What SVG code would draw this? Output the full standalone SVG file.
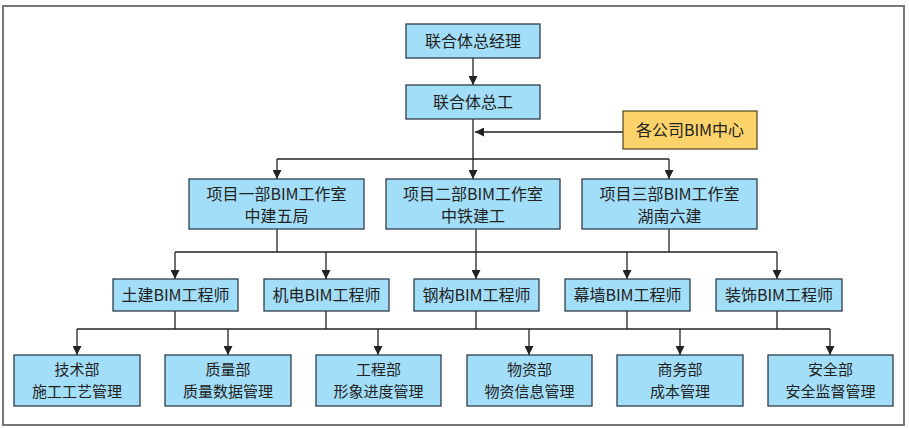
<svg xmlns="http://www.w3.org/2000/svg" width="909" height="429" viewBox="0 0 909 429">
<style>
.b{fill:#a3def8;stroke:#2f3d4c;stroke-width:1.3}
.y{fill:#fbd36a;stroke:#5c4f2a;stroke-width:1.3}
.t{font-family:"Noto Sans CJK SC","Noto Sans",sans-serif;font-size:16px;fill:#222;text-anchor:middle}
.s{font-size:15px}
.c{fill:none;stroke:#222;stroke-width:1.3}
</style>
<defs>
<marker id="ah" viewBox="0 0 10 10" refX="10" refY="5" markerWidth="9" markerHeight="9" markerUnits="userSpaceOnUse" orient="auto">
<path d="M0,0 L10,5 L0,10 z" fill="#222"/>
</marker>
</defs>
<rect x="3" y="6" width="901" height="419" fill="#fff" stroke="#777" stroke-width="2"/>
<g id="connectors">
<path class="c" d="M473,58 V85" marker-end="url(#ah)"/>
<path class="c" d="M473,119 V159"/>
<path class="c" d="M623,132 H475" marker-end="url(#ah)"/>
<path class="c" d="M277,159 H669"/>
<path class="c" d="M277,159 V179" marker-end="url(#ah)"/>
<path class="c" d="M473,159 V179" marker-end="url(#ah)"/>
<path class="c" d="M669,159 V179" marker-end="url(#ah)"/>
<path class="c" d="M277,229 V252"/>
<path class="c" d="M669,229 V252"/>
<path class="c" d="M175,252 H777"/>
<path class="c" d="M476,229 V279" marker-end="url(#ah)"/>
<path class="c" d="M175,252 V279" marker-end="url(#ah)"/>
<path class="c" d="M326,252 V279" marker-end="url(#ah)"/>
<path class="c" d="M627,252 V279" marker-end="url(#ah)"/>
<path class="c" d="M777,252 V279" marker-end="url(#ah)"/>
<path class="c" d="M175,311 V329 M326,311 V329 M476,311 V329 M627,311 V329 M777,311 V329"/>
<path class="c" d="M77,329 H830"/>
<path class="c" d="M77,329 V355" marker-end="url(#ah)"/>
<path class="c" d="M228,329 V355" marker-end="url(#ah)"/>
<path class="c" d="M378,329 V355" marker-end="url(#ah)"/>
<path class="c" d="M529,329 V355" marker-end="url(#ah)"/>
<path class="c" d="M680,329 V355" marker-end="url(#ah)"/>
<path class="c" d="M830,329 V355" marker-end="url(#ah)"/>
</g>
<g id="n-gm"><rect class="b" x="406" y="24" width="134" height="34"/><text class="t" x="473" y="47">联合体总经理</text></g>
<g id="n-ce"><rect class="b" x="406" y="85" width="134" height="34"/><text class="t" x="473" y="108">联合体总工</text></g>
<g id="n-bim"><rect class="y" x="623" y="111" width="134" height="38"/><text class="t" x="690" y="136">各公司BIM中心</text></g>
<g id="n-p1"><rect class="b" x="189" y="179" width="175" height="50"/><text class="t" x="276.5" y="200">项目一部BIM工作室</text><text class="t" x="276.5" y="222">中建五局</text></g>
<g id="n-p2"><rect class="b" x="386" y="179" width="174" height="50"/><text class="t" x="473" y="200">项目二部BIM工作室</text><text class="t" x="473" y="222">中铁建工</text></g>
<g id="n-p3"><rect class="b" x="582" y="179" width="175" height="50"/><text class="t" x="669.5" y="200">项目三部BIM工作室</text><text class="t" x="669.5" y="222">湖南六建</text></g>
<g id="n-e1"><rect class="b" x="113" y="279" width="125" height="32"/><text class="t" x="175.5" y="301">土建BIM工程师</text></g>
<g id="n-e2"><rect class="b" x="264" y="279" width="125" height="32"/><text class="t" x="326.5" y="301">机电BIM工程师</text></g>
<g id="n-e3"><rect class="b" x="414" y="279" width="125" height="32"/><text class="t" x="476.5" y="301">钢构BIM工程师</text></g>
<g id="n-e4"><rect class="b" x="565" y="279" width="125" height="32"/><text class="t" x="627.5" y="301">幕墙BIM工程师</text></g>
<g id="n-e5"><rect class="b" x="716" y="279" width="126" height="32"/><text class="t" x="779" y="301">装饰BIM工程师</text></g>
<g id="n-d1"><rect class="b" x="14" y="355" width="126" height="51"/><text class="t s" x="77" y="375">技术部</text><text class="t s" x="77" y="397">施工工艺管理</text></g>
<g id="n-d2"><rect class="b" x="165" y="355" width="126" height="51"/><text class="t s" x="228" y="375">质量部</text><text class="t s" x="228" y="397">质量数据管理</text></g>
<g id="n-d3"><rect class="b" x="316" y="355" width="125" height="51"/><text class="t s" x="378.5" y="375">工程部</text><text class="t s" x="378.5" y="397">形象进度管理</text></g>
<g id="n-d4"><rect class="b" x="467" y="355" width="125" height="51"/><text class="t s" x="529.5" y="375">物资部</text><text class="t s" x="529.5" y="397">物资信息管理</text></g>
<g id="n-d5"><rect class="b" x="617" y="355" width="126" height="51"/><text class="t s" x="680" y="375">商务部</text><text class="t s" x="680" y="397">成本管理</text></g>
<g id="n-d6"><rect class="b" x="768" y="355" width="125" height="51"/><text class="t s" x="830.5" y="375">安全部</text><text class="t s" x="830.5" y="397">安全监督管理</text></g>
</svg>
